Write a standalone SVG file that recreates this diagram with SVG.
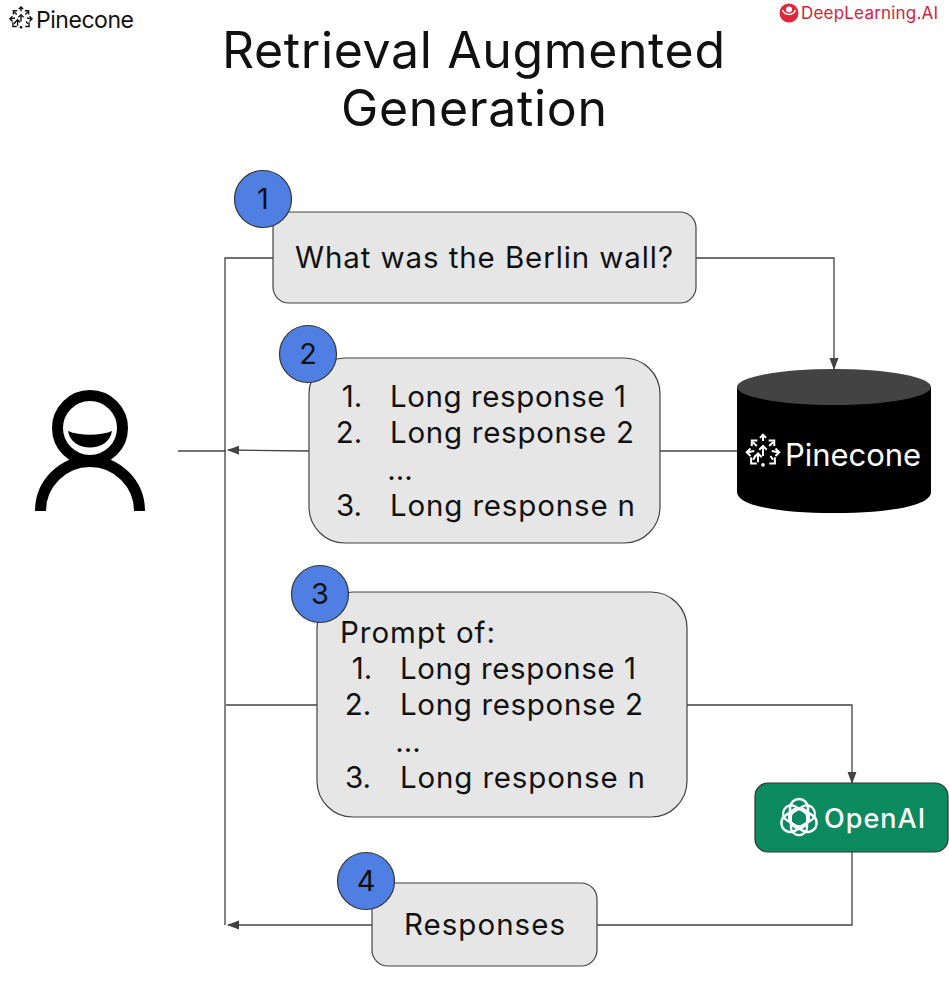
<svg xmlns="http://www.w3.org/2000/svg" width="949" height="984" viewBox="0 0 949 984">
<style>
text{font-family:Inter,"Open Sans","Liberation Sans",sans-serif;fill:#111}
.t{font-size:29.500px}
.title{font-size:50px}
.box{fill:#e6e6e6;stroke:#434343;stroke-width:1.2}
.badge{fill:#4f7fe3;stroke:#333;stroke-width:1.2}
.n{font-size:29px;text-anchor:middle}
.m{text-anchor:middle}
.c{fill:none;stroke:#434343;stroke-width:1.3}
</style>
<defs>
<marker id="a" markerWidth="12" markerHeight="10" refX="11" refY="5" orient="auto" markerUnits="userSpaceOnUse"><path d="M0 0.500L12 5L0 9.500Z" fill="#434343"/></marker>
<g id="pc">
<g fill="none" stroke="currentColor" stroke-width="1.6">
<path d="M0-3V4M-3-1L0-4L3-1"/>
<path d="M-4 9V3M-7 5L-4 2L-1 5"/>
<path d="M0-13V-8M-2.500-10.500L0-13L2.500-10.500"/>
<path d="M-8-7L-5-4M-9-4L-9-8.500L-4.500-8.500"/>
<path d="M8-7L5-4M9-4L9-8.500L4.500-8.500"/>
<path d="M-12 1L-7 0M-10-2L-13 1L-10 4"/>
<path d="M12 1L7 0M10-2L13 1L10 4"/>
<path d="M-8 7L-6 4M-9.500 5L-9.500 10L-5 10"/>
<path d="M8 7L6 4M9.500 5L9.500 10L5 10"/>
</g>
<circle cx="0" cy="11" r="1.500" fill="currentColor"/>
</g>
<rect id="loop" x="-9" y="-19" width="18" height="29" rx="9"/>
</defs>
<rect width="949" height="984" fill="#fff"/>

<g id="logo-pinecone" color="#111">
<use href="#pc" transform="translate(21 18)scale(.85)"/>
<text x="36" y="28" style="font-size:23px" textLength="98">Pinecone</text>
</g>
<g id="logo-deeplearning">
<circle cx="789" cy="13" r="9.500" fill="#e0263c"/><path d="M782.500 10A7 7 0 0 0 795.500 10" fill="none" stroke="#fff" stroke-width="1.500"/><circle cx="789" cy="9.500" r="3" fill="#fff"/>
<text x="801" y="19" style="font-size:17px;fill:#d3233a" textLength="137">DeepLearning.AI</text>
</g>
<g id="title">
<text class="title" x="222" y="68" textLength="503">Retrieval Augmented</text>
<text class="title" x="341" y="126" textLength="266">Generation</text>
</g>

<g id="connectors">
<path class="c" d="M273 258H225V925"/>
<path class="c" d="M696 258H834V369" marker-end="url(#a)"/>
<path class="c" d="M309 451L228 450" marker-end="url(#a)"/>
<path class="c" d="M226 451H178"/>
<path class="c" d="M660 451H737"/>
<path class="c" d="M317 705H226"/>
<path class="c" d="M687 705H852V783" marker-end="url(#a)"/>
<path class="c" d="M852 852V925H597"/>
<path class="c" d="M372 925H228" marker-end="url(#a)"/>
</g>

<g id="user">
<g fill="none" stroke="#000" stroke-width="11">
<circle cx="90" cy="428" r="32.500"/>
<path d="M40.500 511A49.500 49.500 0 0 1 139.500 511"/>
</g>
<path d="M68 431C80 436 100 436 112 431C109 453 71 453 68 431Z" fill="#000"/>
</g>

<g id="node-1">
<rect class="box" x="273" y="212" width="423" height="91" rx="16"/>
<text class="t" x="295" y="268" textLength="378">What was the Berlin wall?</text>
<circle class="badge" cx="263" cy="199" r="28.500"/><text class="n" x="263" y="209">1</text>
</g>
<g id="node-2">
<rect class="box" x="309" y="358" width="351" height="185" rx="36"/>
<text class="t m" x="352" y="407">1.</text><text class="t" x="390" y="407" textLength="236">Long response 1</text>
<text class="t m" x="349" y="443">2.</text><text class="t" x="390" y="443" textLength="244">Long response 2</text>
<text class="t m" x="400" y="480">...</text>
<text class="t m" x="349" y="516">3.</text><text class="t" x="390" y="516" textLength="245">Long response n</text>
<circle class="badge" cx="308" cy="354" r="28.500"/><text class="n" x="308" y="364">2</text>
</g>
<g id="node-3">
<rect class="box" x="317" y="592" width="370" height="225" rx="36"/>
<text class="t" x="340" y="643" textLength="155">Prompt of:</text>
<text class="t m" x="362" y="679">1.</text><text class="t" x="400" y="679" textLength="236">Long response 1</text>
<text class="t m" x="358" y="715">2.</text><text class="t" x="400" y="715" textLength="243">Long response 2</text>
<text class="t m" x="408" y="752">...</text>
<text class="t m" x="358" y="788">3.</text><text class="t" x="400" y="788" textLength="245">Long response n</text>
<circle class="badge" cx="320" cy="594" r="28.500"/><text class="n" x="320" y="604">3</text>
</g>
<g id="node-4">
<rect class="box" x="372" y="883" width="225" height="83" rx="16"/>
<text class="t" x="404" y="935" textLength="161">Responses</text>
<circle class="badge" cx="366" cy="881" r="28.500"/><text class="n" x="366" y="891">4</text>
</g>

<g id="node-pinecone" color="#fff">
<path d="M737 387V492C737 504 770 513 834 513C898 513 931 504 931 492V387Z" fill="#000"/>
<ellipse cx="834" cy="387" rx="97" ry="18" fill="#434343"/>
<use href="#pc" transform="translate(763 451)scale(1.250)"/>
<text x="785" y="466" style="font-size:31px;fill:#fff" textLength="136">Pinecone</text>
</g>
<g id="node-openai">
<rect x="755" y="783" width="193" height="69" rx="13" fill="#0c8a5f" stroke="#333" stroke-width="1.200"/>
<g fill="none" stroke="#fff" stroke-width="2.500" transform="translate(799 818)">
<use href="#loop"/><use href="#loop" transform="rotate(120)"/><use href="#loop" transform="rotate(240)"/>
<use href="#loop" transform="rotate(60)scale(.9)"/><use href="#loop" transform="rotate(180)scale(.9)"/><use href="#loop" transform="rotate(300)scale(.9)"/>
</g>
<text x="824" y="828" style="font-size:27px;fill:#fff;font-weight:500" textLength="101">OpenAI</text>
</g>
</svg>
